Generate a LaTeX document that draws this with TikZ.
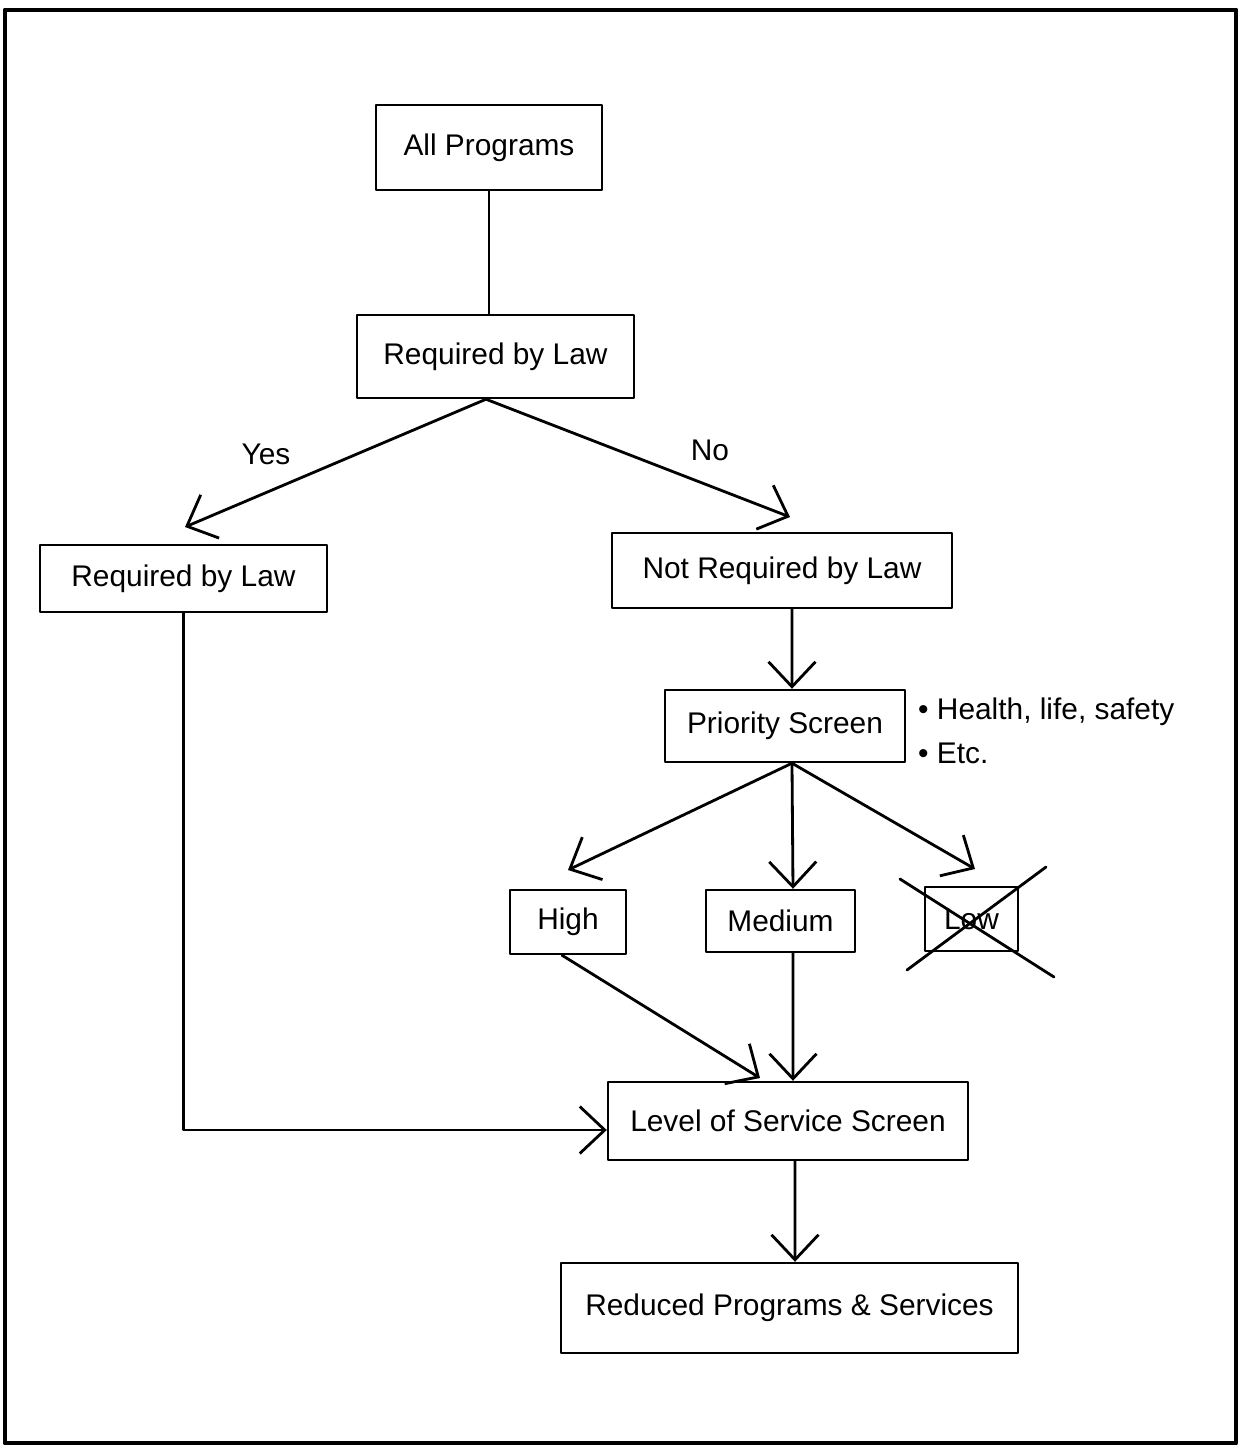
\documentclass[tikz,border=0pt]{standalone}
\usepackage{fontspec}
\setmainfont{Liberation Sans}
\usetikzlibrary{arrows.meta}

\begin{document}
\begin{tikzpicture}[>={Straight Barb[length=0.5cm,width=0.94cm]},line join=round,line cap=round,x=0.02cm,y=-0.02cm,font=\fontsize{17}{20}\selectfont,
	box/.style={draw,line width=1.4pt,inner sep=0pt},
	conn/.style={line width=1.6pt}]
				\useasboundingbox (0,0) rectangle (1241,1448);
				\draw[line width=2.8pt] (5,10) rectangle (1236,1443);
				\node[box,minimum width=4.52cm,minimum height=1.70cm] (progs) at (489,147.5) {All Programs};
				\node[box,minimum width=5.54cm,minimum height=1.66cm] (law) at (495.5,356.5) {Required by Law};
				\node[box,minimum width=5.74cm,minimum height=1.34cm] (lawyes) at (183.5,578.5) {Required by Law};
				\node[box,minimum width=6.80cm,minimum height=1.50cm] (notlaw) at (782,570.5) {Not Required by Law};
				\node[box,minimum width=4.80cm,minimum height=1.44cm] (prio) at (785,726) {Priority Screen};
				\node[anchor=base west] (health) at (912,719) {\textbullet\ Health, life, safety};
				\node[anchor=base west] (etc) at (912,763) {\textbullet\ Etc.};
				\node[box,minimum width=2.32cm,minimum height=1.28cm] (high) at (568,922) {High};
				\node[box,minimum width=2.98cm,minimum height=1.24cm] (medium) at (780.5,921) {Medium};
				\node[box,minimum width=1.86cm,minimum height=1.28cm] (low) at (971.5,919) {Low};
				\node[box,minimum width=7.20cm,minimum height=1.56cm] (los) at (788,1121) {Level of Service Screen};
				\node[box,minimum width=9.14cm,minimum height=1.80cm] (reduced) at (789.5,1308) {Reduced Programs \& Services};
				\node (yes) at (266,454) {Yes};
				\node (no) at (710,450) {No};
				\coordinate (yestip) at (185,527);
				\coordinate (notip) at (790,517);
				\coordinate (hightip) at (568,870);
				\coordinate (lowtip) at (975,869);
				\coordinate (lostip) at (760,1078);
				\draw[conn] (progs.south) -- (progs.south |- law.north);
				\draw[conn,->] ([xshift=-0.19cm]law.south) -- (yestip);
				\draw[conn,->] ([xshift=-0.19cm]law.south) -- (notip);
				\draw[conn,->] ([xshift=0.2cm]notlaw.south) -- ([xshift=0.14cm]prio.north);
				\draw[conn,->] ([xshift=0.14cm]prio.south) -- (hightip);
				\draw[conn,->] ([xshift=0.14cm]prio.south) -- ([xshift=0.25cm]medium.north);
				\draw[conn,->] ([xshift=0.14cm]prio.south) -- (lowtip);
				\draw[conn,->] ([xshift=-0.12cm]high.south) -- (lostip);
				\draw[conn,->] ([xshift=0.25cm]medium.south) -- ([xshift=0.1cm]los.north);
				\draw[conn,->] (lawyes.south) |- ([yshift=-0.18cm]los.west);
				\draw[conn,->] ([xshift=0.14cm]los.south) -- ([xshift=0.11cm]reduced.north);
				\draw[conn] (900,879) -- (1054,977);
				\draw[conn] (1046,867) -- (907,970);
			\end{tikzpicture}
\end{document}
